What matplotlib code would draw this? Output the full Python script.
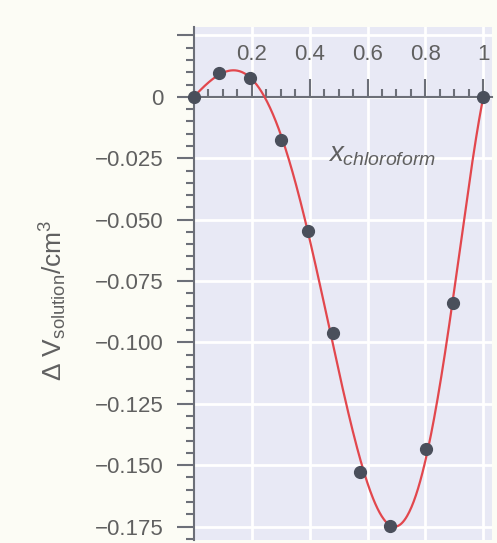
import matplotlib.pyplot as plt
from matplotlib.ticker import MultipleLocator, FixedLocator
import numpy as np

plt.rcParams['font.family'] = ['Liberation Sans', 'DejaVu Sans']
plt.rcParams['mathtext.fontset'] = 'custom'
plt.rcParams['mathtext.rm'] = 'Liberation Sans'
plt.rcParams['mathtext.it'] = 'Liberation Sans:italic'

# mole fraction of chloroform and measured volume change (cm^3)
x_chcl3 = [0.0, 0.087, 0.194, 0.301, 0.394, 0.481, 0.574, 0.678, 0.803, 0.896, 1.0]
dV = [0.0, 0.0098, 0.0077, -0.0175, -0.0545, -0.0961, -0.1526, -0.1746, -0.1433, -0.0838, 0.0]

y_ticks = [0.025, 0.0, -0.025, -0.050, -0.075, -0.100, -0.125, -0.150, -0.175]
y_labels = ['', '0', '\u22120.025', '\u22120.050', '\u22120.075', '\u22120.100',
            '\u22120.125', '\u22120.150', '\u22120.175']
x_ticks = [0.2, 0.4, 0.6, 0.8, 1.0]
x_labels = ['0.2', '0.4', '0.6', '0.8', '1']

axis_gray = '#6c6f78'
text_gray = '#606060'

fig = plt.figure(figsize=(4.97, 5.43), dpi=100, facecolor='#fcfcf5')
ax = fig.add_axes([0.390, 0.0055, 0.600, 0.945])
ax.set_facecolor('#e8e9f5')

# Redlich-Kister style fit through the points for the smooth curve
xa = np.array(x_chcl3)
ya = np.array(dV)
basis = np.column_stack([xa * (1 - xa) * (2 * xa - 1) ** k for k in range(5)])
coef, *_ = np.linalg.lstsq(basis, ya, rcond=None)
xs = np.linspace(0, 1, 400)
ys = np.column_stack([xs * (1 - xs) * (2 * xs - 1) ** k for k in range(5)]) @ coef

ax.plot(xs, ys, color='#e2474d', lw=1.6, zorder=3, clip_on=False)
ax.plot(x_chcl3, dV, 'o', color='#4a4f5b', ms=8.5, zorder=4, clip_on=False)

ax.set_xlim(0, 1.03)
ax.set_ylim(-0.1805, 0.0285)

# x axis sits on y = 0 with ticks and labels above it
ax.spines['top'].set_position(('data', 0))
ax.spines['bottom'].set_visible(False)
ax.spines['right'].set_visible(False)
for s in ('top', 'left'):
    ax.spines[s].set_color(axis_gray)
    ax.spines[s].set_linewidth(1.5)

ax.xaxis.set_ticks_position('top')
ax.xaxis.set_major_locator(FixedLocator(x_ticks))
ax.set_xticklabels(x_labels)
ax.xaxis.set_minor_locator(MultipleLocator(0.05))
ax.tick_params(axis='x', which='major', direction='out', length=13, width=1.5,
               color=axis_gray, labelsize=16, labelcolor=text_gray, pad=10)
ax.tick_params(axis='x', which='minor', direction='out', length=6, width=1.5,
               color=axis_gray)

ax.set_yticks(y_ticks)
ax.set_yticklabels(y_labels)
ax.yaxis.set_minor_locator(MultipleLocator(0.005))
ax.tick_params(axis='y', which='major', direction='out', length=12.5, width=1.5,
               color=axis_gray, labelsize=16, labelcolor=text_gray, pad=9)
ax.tick_params(axis='y', which='minor', direction='out', length=6, width=1.5,
               color=axis_gray)

ax.grid(True, which='major', color='white', lw=2)
ax.set_axisbelow(True)

ax.set_ylabel(r'$\Delta\ \mathrm{V}_{\mathrm{solution}}/\mathrm{cm}^3$',
              fontsize=19, color=text_gray)
ax.yaxis.set_label_coords(-0.42, 0.468)

ax.text(0.464, -0.0265, r'$x_{chloroform}$', fontsize=20, color=text_gray,
        va='baseline', ha='left')

fig.savefig('out.png', dpi=100, facecolor=fig.get_facecolor())
